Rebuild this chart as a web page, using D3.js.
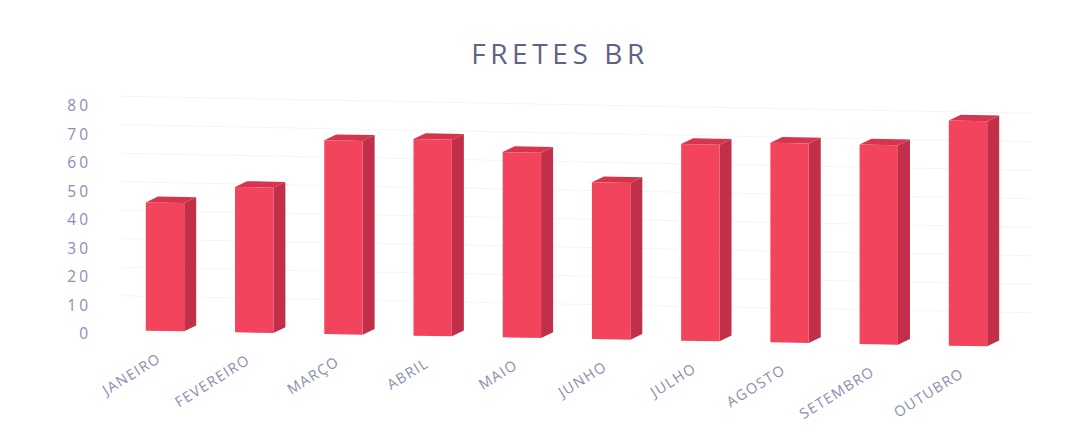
<!DOCTYPE html>
<html>
<head>
<meta charset="utf-8">
<script src="https://cdn.jsdelivr.net/npm/d3@7"></script>
<style>
  html, body { margin: 0; padding: 0; background: #ffffff; }
  svg { display: block; }
</style>
</head>
<body>
<svg id="chart" width="1090" height="443"></svg>
<script>
const title = "FRETES BR";
const months = ["JANEIRO", "FEVEREIRO", "MARÇO", "ABRIL", "MAIO", "JUNHO", "JULHO", "AGOSTO", "SETEMBRO", "OUTUBRO"];
const fretes = [45, 51, 68, 69, 65, 55, 69, 70, 70, 79];
const yTicks = [0, 10, 20, 30, 40, 50, 60, 70, 80];

const svg = d3.select("#chart");

// photo tilt: baseline drops slightly to the right
const tilt = 0.0187;
const pivotX = 165;

const x = d3.scalePoint().domain(months).range([165, 968]);
const y = d3.scaleLinear().domain([0, 80]).range([334, 106]);
const barW = x.step() * 0.43;
const depthX = 12, depthY = 6;

const frontColor = "#f3445d";
const sideColor = "#c22f49";
const topColor = "#d6354e";
const textColor = "#8a8fae";

// title
svg.append("text")
  .attr("x", 560).attr("y", 64)
  .attr("text-anchor", "middle")
  .attr("font-family", "'Open Sans', sans-serif")
  .attr("font-size", 28)
  .attr("letter-spacing", 4.6)
  .attr("fill", "#5f6385")
  .text(title);

// y axis labels
const yAxis = svg.append("g").attr("transform", "translate(91,0)")
  .call(d3.axisLeft(y).tickValues(yTicks).tickSize(0).tickPadding(0));
yAxis.select(".domain").remove();
yAxis.selectAll("text")
  .attr("font-family", "'Open Sans', sans-serif")
  .attr("font-size", 15.5)
  .attr("letter-spacing", 3)
  .attr("fill", textColor);

// tilted plot group
const g = svg.append("g")
  .attr("transform", `matrix(1,${tilt},0,1,0,${-3 - tilt * pivotX})`);

// faint gridlines on back wall
g.append("g").selectAll("line").data(yTicks.slice(1)).join("line")
  .attr("x1", 110 + depthX).attr("x2", 1020 + depthX)
  .attr("y1", d => y(d) - depthY).attr("y2", d => y(d) - depthY)
  .attr("stroke", "#f5f5f7").attr("stroke-width", 1);

const bars = g.append("g").selectAll("g").data(months.map((m, i) => ({ m, v: fretes[i] }))).join("g");

// side face
bars.append("polygon")
  .attr("points", d => {
    const xr = x(d.m) + barW / 2;
    return [[xr, y(d.v)], [xr + depthX, y(d.v) - depthY], [xr + depthX, y(0) - depthY], [xr, y(0)]].join(" ");
  })
  .attr("fill", sideColor);

// top face
bars.append("polygon")
  .attr("points", d => {
    const xl = x(d.m) - barW / 2, xr = x(d.m) + barW / 2;
    return [[xl, y(d.v)], [xl + depthX, y(d.v) - depthY], [xr + depthX, y(d.v) - depthY], [xr, y(d.v)]].join(" ");
  })
  .attr("fill", topColor);

// front face
bars.append("rect")
  .attr("x", d => x(d.m) - barW / 2)
  .attr("y", d => y(d.v))
  .attr("width", barW)
  .attr("height", d => y(0) - y(d.v))
  .attr("fill", frontColor);

// category labels
const baseY = cx => y(0) - 3 + tilt * (cx - pivotX);
svg.append("g").selectAll("text").data(months).join("text")
  .attr("transform", d => `translate(${x(d) - 3},${baseY(x(d)) + 30}) rotate(-32)`)
  .attr("text-anchor", "end")
  .attr("font-family", "'Open Sans', sans-serif")
  .attr("font-size", 14.5)
  .attr("letter-spacing", 1.3)
  .attr("fill", textColor)
  .text(d => d);
</script>
</body>
</html>
